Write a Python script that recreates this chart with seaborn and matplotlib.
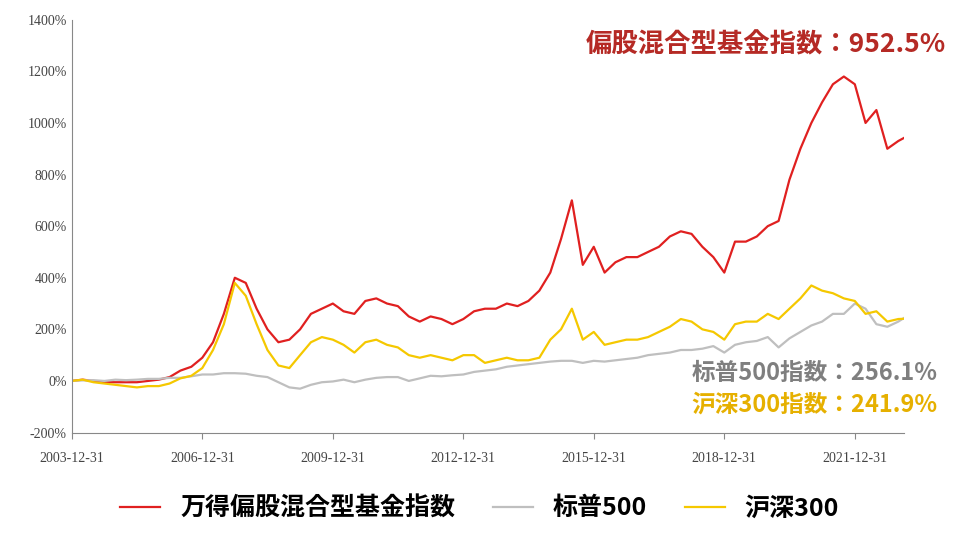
import matplotlib.pyplot as plt
from matplotlib import font_manager as fm
import numpy as np
import pandas as pd
import seaborn as sns

# quarterly estimates (cumulative return, %)
dates = pd.date_range("2003-12-31", periods=78, freq="QE")
fund = [0,
        5, 0, -5, -5, -5, -5, 0, 5, 15, 40, 55, 90,
        150, 260, 400, 380, 280, 200, 150, 160, 200, 260, 280, 300,
        270, 260, 310, 320, 300, 290, 250, 230, 250, 240, 220, 240,
        270, 280, 280, 300, 290, 310, 350, 420, 550, 700, 450, 520,
        420, 460, 480, 480, 500, 520, 560, 580, 570, 520, 480, 420,
        540, 540, 560, 600, 620, 780, 900, 1000, 1080, 1150, 1180, 1150,
        1000, 1050, 900, 930, 952.5]
csi300 = [0,
          5, -5, -10, -15, -20, -25, -20, -20, -10, 10, 20, 50,
          120, 220, 380, 330, 220, 120, 60, 50, 100, 150, 170, 160,
          140, 110, 150, 160, 140, 130, 100, 90, 100, 90, 80, 100,
          100, 70, 80, 90, 80, 80, 90, 160, 200, 280, 160, 190,
          140, 150, 160, 160, 170, 190, 210, 240, 230, 200, 190, 160,
          220, 230, 230, 260, 240, 280, 320, 370, 350, 340, 320, 310,
          260, 270, 230, 240, 241.9]
spx = [0,
       2, 3, 0, 5, 3, 5, 8, 8, 12, 12, 18, 25,
       25, 30, 30, 28, 20, 15, -5, -25, -30, -15, -5, -2,
       5, -5, 5, 12, 15, 15, 0, 10, 20, 18, 22, 25,
       35, 40, 45, 55, 60, 65, 70, 75, 78, 78, 70, 78,
       75, 80, 85, 90, 100, 105, 110, 120, 120, 125, 135, 110,
       140, 150, 155, 170, 130, 165, 190, 215, 230, 260, 260, 300,
       280, 220, 210, 230, 256.1]
dates = dates[:len(fund)]
tick_years = [2003, 2006, 2009, 2012, 2015, 2018, 2021]

names = ["万得偏股混合型基金指数", "标普500", "沪深300"]
colors = ["#e02020", "#bfbfbf", "#f5c800"]
df = pd.DataFrame({"date": dates, names[0]: fund, names[1]: spx, names[2]: csi300})
long = df.melt("date", var_name="series", value_name="ret")

# locate a CJK font file directly
cjk_files = [f for f in fm.findSystemFonts() if "CJK" in f]
bold = [f for f in cjk_files if "Bold" in f]
cjk_path = (bold or cjk_files)[0] if cjk_files else None


def cjk(size):
    if cjk_path:
        return fm.FontProperties(fname=cjk_path, size=size)
    return fm.FontProperties(family="Noto Sans CJK SC", size=size, weight="bold")


fig, ax = plt.subplots(figsize=(9.57, 5.34), dpi=100)
fig.subplots_adjust(left=0.075, right=0.945, top=0.963, bottom=0.19)
sns.lineplot(data=long, x="date", y="ret", hue="series", hue_order=names,
             palette=colors, linewidth=1.6, ax=ax)

ax.set_xlim(pd.Timestamp("2003-12-31"), pd.Timestamp("2023-02-20"))
ax.set_ylim(-200, 1400)
ax.set_yticks(range(-200, 1401, 200))
ax.set_yticklabels([f"{v}%" for v in range(-200, 1401, 200)],
                   fontfamily="Liberation Serif", fontsize=10, color="#444444")
xt = [pd.Timestamp(f"{y}-12-31") for y in tick_years]
ax.set_xticks(xt)
ax.set_xticklabels([f"{y}-12-31" for y in tick_years],
                   fontfamily="Liberation Serif", fontsize=10, color="#444444")
ax.tick_params(axis="x", direction="out", length=4, color="#888888", pad=10)
ax.tick_params(axis="y", length=0)
ax.set_xlabel("")
ax.set_ylabel("")
for s in ["top", "right"]:
    ax.spines[s].set_visible(False)
ax.spines["left"].set_color("#888888")
ax.spines["bottom"].set_color("#888888")

ax.text(1.05, 0.94, "偏股混合型基金指数：952.5%", transform=ax.transAxes, ha="right",
        va="center", fontproperties=cjk(19), color="#b52a25")
ax.text(1.04, 0.145, "标普500指数：256.1%", transform=ax.transAxes, ha="right",
        va="center", fontproperties=cjk(17), color="#7f7f7f")
ax.text(1.04, 0.068, "沪深300指数：241.9%", transform=ax.transAxes, ha="right",
        va="center", fontproperties=cjk(17), color="#e6b000")

ax.legend(loc="upper center", bbox_to_anchor=(0.49, -0.1), ncol=3, frameon=False,
          prop=cjk(18), handlelength=1.6, columnspacing=1.5)
fig.savefig("out.png", dpi=100)
